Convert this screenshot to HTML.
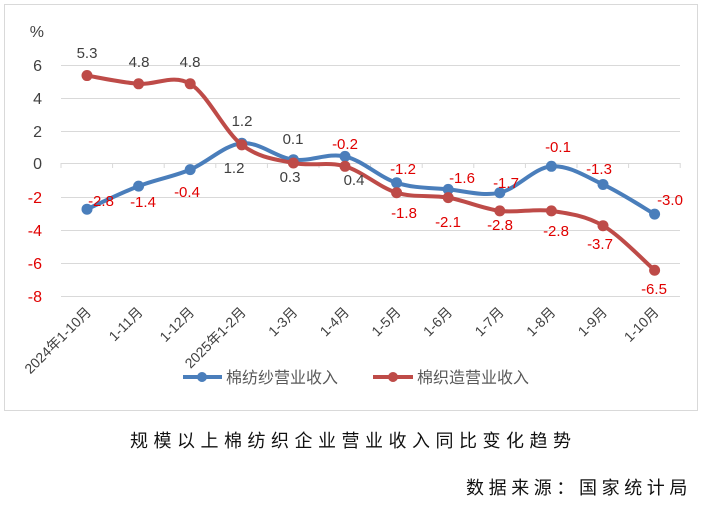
<!DOCTYPE html>
<html><head><meta charset="utf-8"><style>
body{margin:0;background:#fff;width:704px;height:500px;overflow:hidden}
svg text{font-family:"Liberation Sans","Noto Sans CJK SC",sans-serif}
</style></head><body>
<svg id="s" width="704" height="500" xmlns="http://www.w3.org/2000/svg">
<rect x="4.5" y="4.5" width="693" height="406" fill="#fff" stroke="#d9d9d9"/>
<g stroke="#d9d9d9" stroke-width="1">
<line x1="61" x2="680" y1="65.5" y2="65.5"/><line x1="61" x2="680" y1="98.5" y2="98.5"/>
<line x1="61" x2="680" y1="131.5" y2="131.5"/><line x1="61" x2="680" y1="163.5" y2="163.5"/>
<line x1="61" x2="680" y1="197.5" y2="197.5"/><line x1="61" x2="680" y1="230.5" y2="230.5"/>
<line x1="61" x2="680" y1="263.5" y2="263.5"/><line x1="61" x2="680" y1="296.5" y2="296.5"/>
</g>
<g id="ticks" stroke="#d9d9d9"></g>
<g font-size="16" text-anchor="end" fill="#404040">
<text x="44" y="37">%</text>
<text x="42" y="71">6</text><text x="42" y="104">4</text><text x="42" y="137">2</text><text x="42" y="169">0</text>
<text x="42" y="203" fill="#e00000">-2</text><text x="42" y="236" fill="#e00000">-4</text><text x="42" y="269" fill="#e00000">-6</text><text x="42" y="302" fill="#e00000">-8</text>
</g>
<g id="xl" font-size="14" fill="#404040" text-anchor="end"></g>
<g id="lines"></g>
<g font-size="15" text-anchor="middle">
<g fill="#404040">
<text x="87" y="58">5.3</text><text x="139" y="67">4.8</text><text x="190" y="67">4.8</text>
<text x="242" y="126">1.2</text><text x="234" y="173">1.2</text><text x="293" y="144">0.1</text>
<text x="290" y="182">0.3</text><text x="354" y="185">0.4</text>
</g>
<g fill="#e00000">
<text x="101" y="206">-2.8</text><text x="143" y="207">-1.4</text><text x="187" y="197">-0.4</text>
<text x="345" y="149">-0.2</text><text x="403" y="174">-1.2</text><text x="462" y="183">-1.6</text>
<text x="506" y="188">-1.7</text><text x="558" y="152">-0.1</text><text x="599" y="174">-1.3</text>
<text x="670" y="205">-3.0</text><text x="404" y="218">-1.8</text><text x="448" y="227">-2.1</text>
<text x="500" y="230">-2.8</text><text x="556" y="236">-2.8</text><text x="600" y="249">-3.7</text>
<text x="654" y="294">-6.5</text>
</g></g>
<g>
<line x1="183" x2="222" y1="377" y2="377" stroke="#4a7ebb" stroke-width="4"/><circle cx="202" cy="377" r="5" fill="#4a7ebb"/>
<text x="226" y="383" font-size="16" fill="#595959">棉纺纱营业收入</text>
<line x1="373" x2="413" y1="377" y2="377" stroke="#be4b48" stroke-width="4"/><circle cx="393" cy="377" r="5" fill="#be4b48"/>
<text x="417" y="383" font-size="16" fill="#595959">棉织造营业收入</text>
</g>
<text x="130" y="447" font-size="18" fill="#111" letter-spacing="5.5">规模以上棉纺织企业营业收入同比变化趋势</text>
<text x="466" y="494" font-size="18" fill="#111" letter-spacing="4.6">数据来源：国家统计局</text>
</svg>
<script>
var xs=[],labs=["2024年1-10月","1-11月","1-12月","2025年1-2月","1-3月","1-4月","1-5月","1-6月","1-7月","1-8月","1-9月","1-10月"];
for(var i=0;i<12;i++)xs.push(87+i*51.6);
var blue=[-2.8,-1.4,-0.4,1.2,0.2,0.4,-1.2,-1.6,-1.8,-0.2,-1.3,-3.1];
var red=[5.3,4.8,4.8,1.1,0.0,-0.2,-1.8,-2.1,-2.9,-2.9,-3.8,-6.5];
function Y(v){return 163-v*16.5}
var ns="http://www.w3.org/2000/svg";
function path(d,c){var p=d.map(function(v,i){return[xs[i],Y(v)]});var s="M"+p[0];
for(var i=0;i<p.length-1;i++){var a=p[i-1]||p[i],b=p[i],c2=p[i+1],e=p[i+2]||c2;
s+=" C"+(b[0]+(c2[0]-a[0])/6)+","+(b[1]+(c2[1]-a[1])/6)+" "+(c2[0]-(e[0]-b[0])/6)+","+(c2[1]-(e[1]-b[1])/6)+" "+c2;}
var g=document.getElementById("lines");var el=document.createElementNS(ns,"path");
el.setAttribute("d",s);el.setAttribute("fill","none");el.setAttribute("stroke",c);el.setAttribute("stroke-width","4");g.appendChild(el);
p.forEach(function(q){var ci=document.createElementNS(ns,"circle");ci.setAttribute("cx",q[0]);ci.setAttribute("cy",q[1]);ci.setAttribute("r","5.5");ci.setAttribute("fill",c);g.appendChild(ci);});}
path(blue,"#4a7ebb");path(red,"#be4b48");
var t=document.getElementById("ticks"),xl=document.getElementById("xl");
for(var i=0;i<=12;i++){var x=61+i*51.6;var l=document.createElementNS(ns,"line");l.setAttribute("x1",x);l.setAttribute("x2",x);l.setAttribute("y1",163);l.setAttribute("y2",168);t.appendChild(l);}
labs.forEach(function(s,i){var tx=document.createElementNS(ns,"text");var x=xs[i]+5,y=313;tx.setAttribute("x",x);tx.setAttribute("y",y);tx.setAttribute("transform","rotate(-45 "+x+" "+y+")");tx.textContent=s;xl.appendChild(tx);});
</script>
</body></html>
